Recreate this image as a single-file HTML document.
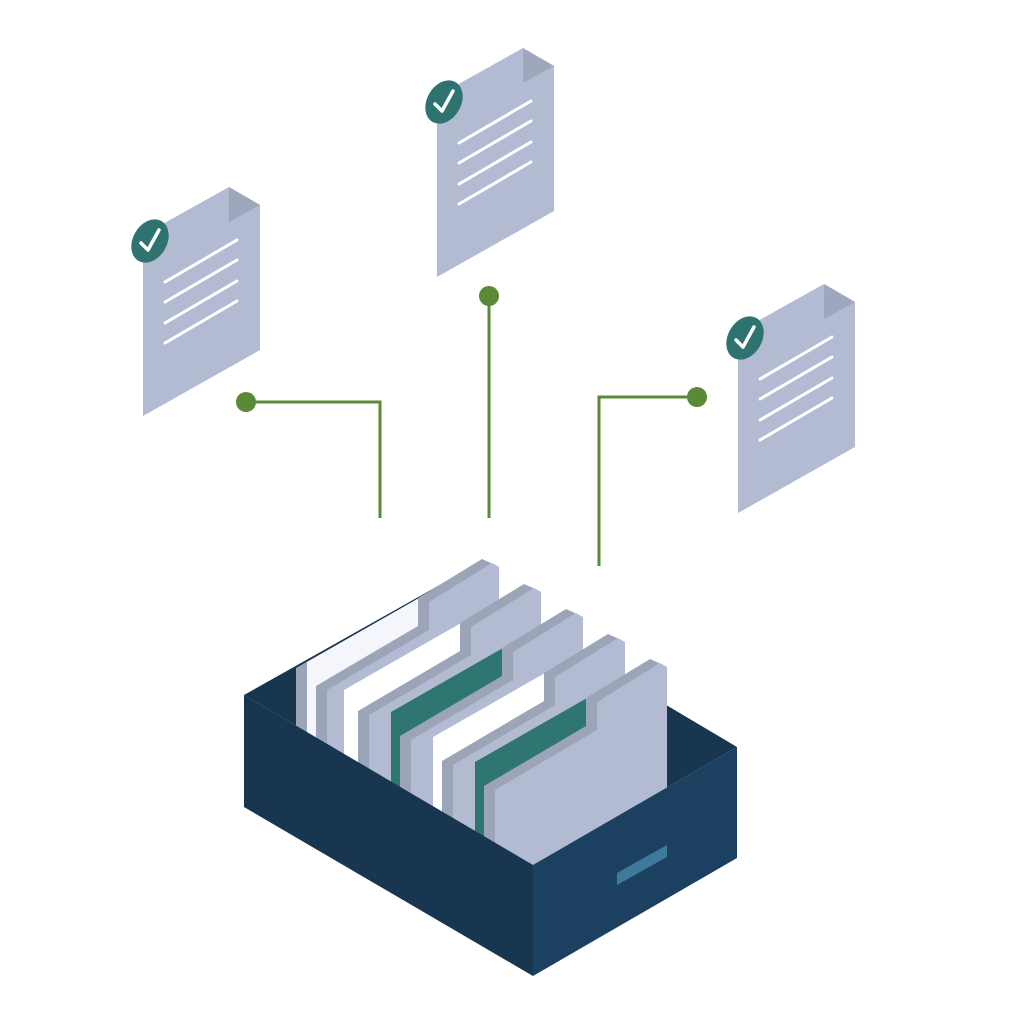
<!DOCTYPE html>
<html><head><meta charset="utf-8"><style>html,body{margin:0;padding:0;background:#fff}svg{display:block}</style></head>
<body>
<svg width="1024" height="1024" viewBox="0 0 1024 1024" xmlns="http://www.w3.org/2000/svg">
<defs>
<g id="doc">
  <polygon points="143,235 229,187 260,205 260,350 143,416" fill="#b2bbd2"/>
  <polygon points="229,187 260,205 229,222" fill="#9ea7bb"/>
  <g stroke="#fff" stroke-width="3" stroke-linecap="round">
    <line x1="165" y1="282" x2="237" y2="240"/>
    <line x1="165" y1="302" x2="237" y2="260"/>
    <line x1="165" y1="323" x2="237" y2="281"/>
    <line x1="165" y1="343" x2="237" y2="301"/>
  </g>
  <ellipse cx="150" cy="241" rx="17" ry="23" transform="rotate(30 150 241)" fill="#2f7370"/>
  <polyline points="141,243 148,250 159,230" fill="none" stroke="#fff" stroke-width="3.5" stroke-linecap="round" stroke-linejoin="round"/>
</g>
<g id="folder">
  <polygon points="484,786 586,726 586,698 650,659 659,663 659,800 484,900" fill="#9ca5b8"/>
  <polygon points="495,790 597,730 597,702 660,663 667,667 667,800 495,900" fill="#b2bbd2"/>
</g>
</defs>

<use href="#doc"/>
<use href="#doc" transform="translate(294,-139)"/>
<use href="#doc" transform="translate(595,97)"/>

<g stroke="#5a8a35" stroke-width="3" fill="none">
  <polyline points="246,402 380,402 380,518"/>
  <line x1="489" y1="296" x2="489" y2="518"/>
  <polyline points="697,397 599,397 599,566"/>
</g>
<g fill="#5a8a35">
  <circle cx="246" cy="402" r="10"/>
  <circle cx="489" cy="296" r="10"/>
  <circle cx="697" cy="397" r="10"/>
</g>

<polygon points="244,695 452,578 737,747 533,865" fill="#183650"/>

<g transform="translate(-168,-100)">
  <polygon points="464,768 587,698 587,900 464,900" fill="#9ca5b8"/>
  <polygon points="475,762 587,698 587,900 475,900" fill="#f4f6fb"/>
  <use href="#folder"/>
</g>
<g transform="translate(-126,-75)">
  <polygon points="470,765 587,698 587,900 470,900" fill="#ffffff"/>
  <use href="#folder"/>
</g>
<g transform="translate(-84,-50)">
  <polygon points="475,762 587,698 587,900 475,900" fill="#2f7672"/>
  <use href="#folder"/>
</g>
<g transform="translate(-42,-25)">
  <polygon points="475,762 587,698 587,900 475,900" fill="#ffffff"/>
  <use href="#folder"/>
</g>
<g>
  <polygon points="475,762 587,698 587,900 475,900" fill="#2f7672"/>
  <use href="#folder"/>
</g>

<polygon points="244,695 533,865 533,976 244,807" fill="#183650"/>
<polygon points="533,865 737,747 737,858 533,976" fill="#1c4060"/>
<polygon points="617,873 667,845 667,857 617,885" fill="#3e7a9c"/>
</svg>
</body></html>
